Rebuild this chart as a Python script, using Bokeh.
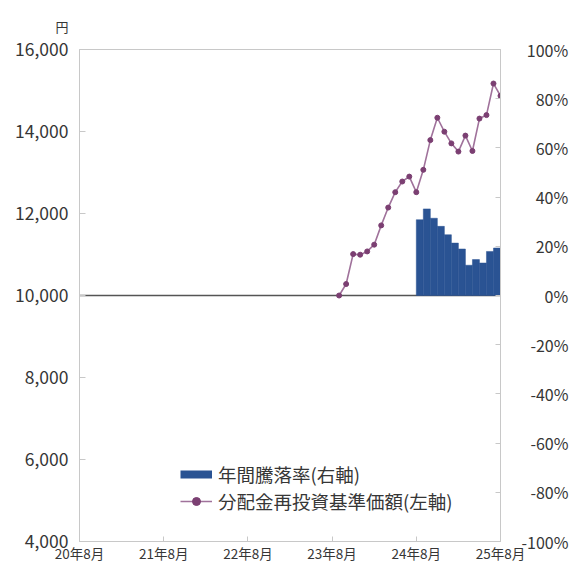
from bokeh.plotting import figure
from bokeh.models import (Range1d, LinearAxis, NumeralTickFormatter, FixedTicker,
                          Span, Title, Legend, LegendItem)
from bokeh.embed import file_html
from bokeh.resources import INLINE

FONT = "Noto Sans CJK JP"
TXT = "#363636"
FRAME = "#c8c8c8"

# --- data ---
nav_dates = ["2023-09", "2023-10", "2023-11", "2023-12", "2024-01", "2024-02",
             "2024-03", "2024-04", "2024-05", "2024-06", "2024-07", "2024-08",
             "2024-09", "2024-10", "2024-11", "2024-12", "2025-01", "2025-02",
             "2025-03", "2025-04", "2025-05", "2025-06", "2025-07", "2025-08"]
nav_values = [10000, 10280, 11010, 10995, 11075, 11240, 11710, 12145, 12520, 12780,
              12900, 12520, 13065, 13790, 14335, 13995, 13710, 13510, 13900, 13525,
              14315, 14400, 15170, 14870]
ret_dates = ["2024-09", "2024-10", "2024-11", "2024-12", "2025-01", "2025-02",
             "2025-03", "2025-04", "2025-05", "2025-06", "2025-07", "2025-08"]
ret_values = [30.8, 35.2, 31.4, 28.1, 24.7, 21.3, 18.9, 12.3, 14.6, 13.2, 17.9, 19.3]
tick_labels = ["20年8月", "21年8月", "22年8月", "23年8月", "24年8月", "25年8月"]
left_ticks = [4000, 6000, 8000, 10000, 12000, 14000, 16000]
right_ticks = [-100, -80, -60, -40, -20, 0, 20, 40, 60, 80, 100]


def month_index(s):
    y, m = s.split("-")
    return (int(y) - 2020) * 12 + (int(m) - 8)


def pct_label(v):
    # pad so that labels end at a common right edge (labels are drawn left-aligned)
    s = "%d%%" % v
    digits = len(str(abs(v)))
    pad = "\u2007" * (3 - digits)
    if v >= 0:
        pad = "\u2004" + pad
    return pad + s


nav_x = [month_index(d) for d in nav_dates]
ret_x = [month_index(d) - 0.5 for d in ret_dates]

p = figure(width=574, height=570, output_backend="svg", toolbar_location=None,
           x_range=Range1d(0, 60), y_range=Range1d(4000, 16000),
           min_border_left=79, min_border_right=74, min_border_top=47, min_border_bottom=29)
p.extra_y_ranges = {"pct": Range1d(-100, 100)}
p.xgrid.visible = False
p.ygrid.visible = False
p.outline_line_color = FRAME
p.background_fill_color = "white"
p.border_fill_color = "white"

# unit label "円"
t = Title(text="円", align="left", offset=-24, standoff=28, text_font=FONT,
          text_font_size="13px", text_font_style="normal", text_color=TXT)
p.add_layout(t, "above")

# bottom axis
xa = p.xaxis[0]
xa.ticker = FixedTicker(ticks=[0, 12, 24, 36, 48, 60])
xa.major_label_overrides = {i * 12: lab for i, lab in enumerate(tick_labels)}
xa.major_tick_in = 5
xa.major_tick_out = 0
xa.minor_tick_line_color = None
xa.axis_line_color = FRAME
xa.major_tick_line_color = FRAME
xa.major_label_standoff = 1
xa.major_label_text_font = FONT
xa.major_label_text_font_size = "13.5px"
xa.major_label_text_color = TXT

# left axis
ya = p.yaxis[0]
ya.ticker = FixedTicker(ticks=left_ticks)
ya.formatter = NumeralTickFormatter(format="0,0")
ya.major_tick_in = 6
ya.major_tick_out = 0
ya.minor_tick_line_color = None
ya.axis_line_color = FRAME
ya.major_tick_line_color = FRAME
ya.major_label_standoff = 11
ya.major_label_text_font = FONT
ya.major_label_text_font_size = "17.5px"
ya.major_label_text_color = TXT

# right axis
ra = LinearAxis(y_range_name="pct", ticker=FixedTicker(ticks=right_ticks))
ra.major_label_overrides = {v: pct_label(v) for v in right_ticks}
ra.major_tick_in = 5
ra.major_tick_out = 0
ra.minor_tick_line_color = None
ra.axis_line_color = FRAME
ra.major_tick_line_color = FRAME
ra.major_label_standoff = 21
ra.major_label_text_font = FONT
ra.major_label_text_font_size = "16px"
ra.major_label_text_color = TXT
p.add_layout(ra, "right")

# zero line
p.add_layout(Span(location=10000, dimension="width", line_color="#555555",
                  line_width=1.5, level="underlay"))

# bars
bars = p.vbar(x=ret_x, width=1.0, bottom=0, top=ret_values, y_range_name="pct",
              fill_color="#2a5393", line_color="#2a5393", line_width=0.5)

# line
ln = p.line(nav_x, nav_values, line_color="#a0729b", line_width=1.6)
mk = p.scatter(nav_x, nav_values, marker="circle", size=5, fill_color="#7b3f72",
               line_color="#7b3f72")

# legend swatch for bars (hidden renderer, drawn only in the legend)
swatch = p.line(ret_x, ret_values, y_range_name="pct", line_color="#2a5393",
                line_width=8, visible=False)

common = dict(padding=0, margin=0, spacing=0, glyph_width=32, glyph_height=20,
              label_height=20, label_standoff=6, label_text_font=FONT,
              label_text_font_size="18.5px", label_text_color=TXT,
              border_line_color=None, background_fill_alpha=0, inactive_fill_alpha=0)
legend1 = Legend(items=[LegendItem(label="年間騰落率(右軸)", renderers=[swatch])],
                 location=(101, 54), **common)
legend2 = Legend(items=[LegendItem(label="分配金再投資基準価額(左軸)", renderers=[ln, mk])],
                 location=(101, 27), **common)
p.add_layout(legend1, "center")
p.add_layout(legend2, "center")

open("out.html", "w").write(file_html(p, INLINE))
